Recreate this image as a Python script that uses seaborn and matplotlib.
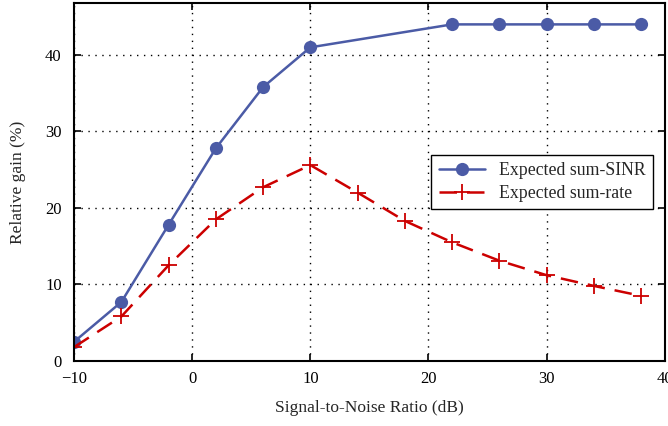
import matplotlib
matplotlib.use("Agg")
import matplotlib.pyplot as plt
import seaborn as sns
import pandas as pd

snr_sinr = [-10, -6, -2, 2, 6, 10, 22, 26, 30, 34, 38]
gain_sinr = [2.5, 7.7, 17.8, 27.8, 35.8, 41.0, 44.0, 44.0, 44.0, 44.0, 44.0]
snr_rate = [-10, -6, -2, 2, 6, 10, 14, 18, 22, 26, 30, 34, 38]
gain_rate = [1.8, 5.8, 12.5, 18.5, 22.7, 25.6, 22.0, 18.3, 15.5, 13.1, 11.2, 9.8, 8.5]
xticks = [-10, 0, 10, 20, 30, 40]
yticks = [0, 10, 20, 30, 40]

sns.set_style("ticks")
plt.rcParams['font.family'] = ['Liberation Serif', 'DejaVu Serif']
plt.rcParams['mathtext.fontset'] = 'stix'

df1 = pd.DataFrame({"x": snr_sinr, "y": gain_sinr})
df2 = pd.DataFrame({"x": snr_rate, "y": gain_rate})

fig = plt.figure(figsize=(6.68, 4.26), dpi=100)
ax = fig.add_axes([0.111, 0.153, 0.884, 0.840])

blue = '#4B5BA6'
red = '#CC0000'
sns.lineplot(data=df1, x="x", y="y", ax=ax, color=blue, lw=1.8, marker='o',
             markersize=9.5, markeredgewidth=0, markeredgecolor=blue,
             label="Expected sum-SINR")
sns.lineplot(data=df2, x="x", y="y", ax=ax, color=red, lw=1.8, marker='+',
             markersize=12, markeredgewidth=1.3, markeredgecolor=red,
             label="Expected sum-rate")
ax.lines[1].set_dashes([7, 4])

ax.set_xlim(-10, 40)
ax.set_ylim(0, 46.8)
ax.set_xticks(xticks)
ax.set_yticks(yticks)
ax.set_xticklabels(["\u2212" + str(-t) if t < 0 else str(t) for t in xticks])
ax.tick_params(direction='in', top=True, right=True, length=5, width=1.2,
               labelsize=12, colors='black')
ax.tick_params(axis='y', pad=9)
ax.tick_params(axis='x', pad=7)
ax.grid(True, color='black', linestyle=(0, (1, 4)), linewidth=1.0)
for s in ax.spines.values():
    s.set_linewidth(1.5)
    s.set_color('black')
ax.set_xlabel("Signal-to-Noise Ratio (dB)", fontsize=12.5, labelpad=10)
ax.set_ylabel("Relative gain (%)", fontsize=12.5, labelpad=14)

leg = ax.legend(loc='upper left', bbox_to_anchor=(0.59, 0.6), fontsize=12.8,
                frameon=True, fancybox=False, edgecolor='black', framealpha=1,
                handlelength=2.6, borderpad=0.4, labelspacing=0.35)
leg.get_frame().set_linewidth(1.0)

fig.savefig("out.png", dpi=100)
